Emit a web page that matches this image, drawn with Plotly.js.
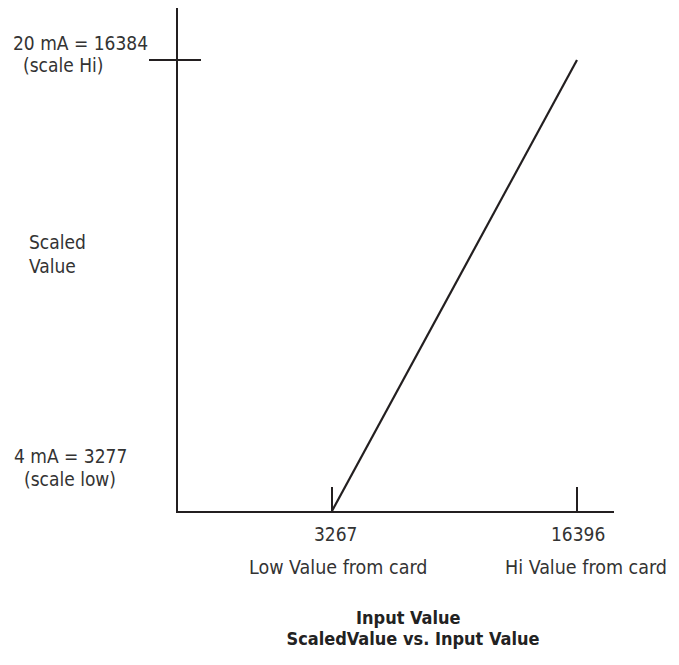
<!DOCTYPE html>
<html><head><meta charset="utf-8">
<script src="https://cdn.plot.ly/plotly-3.0.1.min.js"></script>
<style>html,body{margin:0;padding:0;background:#fff}#c{width:679px;height:665px}</style>
</head><body><div id="c"></div>
<script>
// Data
const inputValues = [3267, 16396];          // raw card values (x)
const scaledValues = [3277, 16384];         // scaled values (y)
const xTickLabels = ["3267", "16396"];
const xTickNotes = ["Low Value from card", "Hi Value from card"];
const yLabelHi = ["20 mA = 16384", "(scale Hi)"];
const yLabelLo = ["4 mA = 3277", "(scale low)"];
const yTitleLines = ["Scaled", "Value"];
const xTitle = "Input Value";
const chartTitle = "ScaledValue vs. Input Value";

const W = 679, H = 665;
const L = 178, R = 65, T = 8, B = 154;
const pw = W - L - R, ph = H - T - B;
const px = x => (x - L) / pw;
const py = y => 1 - (y - T) / ph;

const FONT = '"Liberation Sans Narrow", "DejaVu Sans Condensed", "Liberation Sans", sans-serif';
const TXT = '#333333';
const LINE = '#231f20';

const trace = {
  x: inputValues, y: scaledValues, type: 'scatter', mode: 'lines',
  line: {color: LINE, width: 2.2}, hoverinfo: 'skip', showlegend: false
};

const ann = [];
function A(text, x, y, xanchor, extra) {
  ann.push(Object.assign({text, x, y, xref: 'paper', yref: 'paper', xanchor, yanchor: 'middle',
    showarrow: false, borderpad: 0, borderwidth: 0, font: {family: FONT, size: 19, color: TXT}}, extra || {}));
}
// y labels
A(yLabelHi[0], px(13), py(43), 'left');
A(yLabelHi[1], px(23), py(65), 'left');
A(yLabelLo[0], px(14), py(456), 'left');
A(yLabelLo[1], px(24), py(479), 'left');
A(yTitleLines[0], px(29), py(242), 'left');
A(yTitleLines[1], px(29), py(266), 'left');
// x tick labels (anchored to data x)
const tickShift = [4, 1];
const noteShift = [6, 9];
inputValues.forEach((v, i) => {
  ann.push({text: xTickLabels[i], x: v, xref: 'x', y: py(534), yref: 'paper', xanchor: 'center', yanchor: 'middle',
    xshift: tickShift[i], showarrow: false, font: {family: FONT, size: 19, color: TXT}});
  ann.push({text: xTickNotes[i], x: v, xref: 'x', y: py(567), yref: 'paper', xanchor: 'center', yanchor: 'middle',
    xshift: noteShift[i], showarrow: false, font: {family: FONT, size: 19.5, color: TXT}});
});
A('<b>' + xTitle + '</b>', px(408), py(617), 'center', {font: {family: FONT, size: 18, color: '#222'}});

const layout = {
  width: W, height: H,
  margin: {l: L, r: R, t: T, b: B},
  paper_bgcolor: '#fff', plot_bgcolor: '#fff',
  showlegend: false,
  title: {text: '<b>' + chartTitle + '</b>', x: 413 / W, xanchor: 'center', xref: 'container',
    y: 1 - 639 / H, yanchor: 'middle', yref: 'container', font: {family: FONT, size: 18, color: '#222'}},
  xaxis: {range: [-4985, 18379], showgrid: false, zeroline: false, showline: true, linecolor: LINE, linewidth: 2,
    ticks: 'inside', tickvals: inputValues, ticklen: 24, tickwidth: 2, tickcolor: LINE, showticklabels: false,
    fixedrange: true},
  yaxis: {range: [3277, 17895], showgrid: false, zeroline: false, showline: true, linecolor: LINE, linewidth: 2,
    ticks: 'outside', tickvals: [scaledValues[1]], ticklen: 27, tickwidth: 2, tickcolor: LINE, showticklabels: false,
    fixedrange: true},
  yaxis2: {overlaying: 'y', matches: 'y', side: 'left', range: [3277, 17895], showgrid: false, zeroline: false,
    showline: false, ticks: 'inside', tickvals: [scaledValues[1]], ticklen: 23, tickwidth: 2, tickcolor: LINE,
    showticklabels: false, fixedrange: true},
  annotations: ann
};
const dummy = {x: [inputValues[0]], y: [scaledValues[0]], yaxis: 'y2', type: 'scatter', mode: 'none',
  hoverinfo: 'skip', showlegend: false};
Plotly.newPlot('c', [trace, dummy], layout, {displayModeBar: false, staticPlot: true});
</script></body></html>
